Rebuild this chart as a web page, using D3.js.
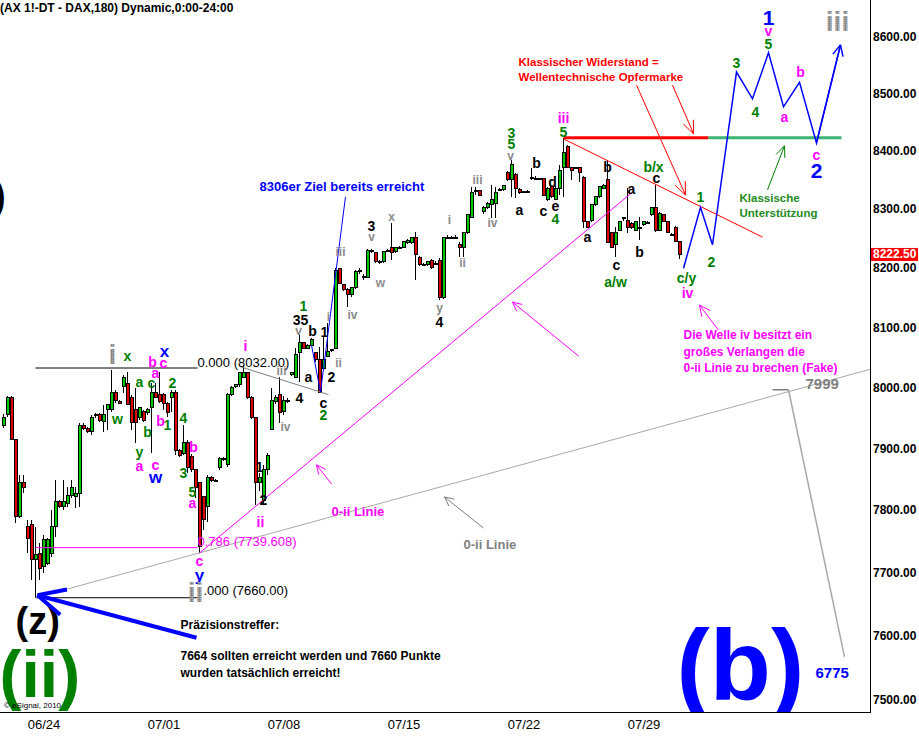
<!DOCTYPE html>
<html>
<head>
<meta charset="utf-8">
<script src="https://cdn.jsdelivr.net/npm/d3@7"></script>
<style>
  body { margin: 0; background: #fff; }
  text { font-family: Arial, "Liberation Sans", sans-serif; }
</style>
</head>
<body>
<div id="chart"></div>
<script>
// 180 min bars, FDAX, 0 = first bar on chart
const opens = [7938,7955,7983,7914,7789,7844,7773,7776,7720,7731,7709,7715,7731,7773,7813,7805,7811,7824,7821,7827,
  7938,7933,7927,7953,7955,7943,7963,7963,7992,7976,8001,8007,7984,7963,7951,7960,7958,7966,7992,7988,
  7988,7974,7983,7992,7897,7892,7910,7886,7865,7844,7821,7805,7853,7848,7868,7881,7873,7988,8002,8004,
  8017,8024,7983,7950,7844,7816,7865,7930,7976,7988,7960,7979,8022,8017,8057,8074,8065,8070,8057,8046,
  8032,8051,8061,8065,8198,8171,8163,8154,8166,8193,8186,8184,8230,8225,8210,8210,8229,8234,8227,8234,
  8235,8242,8242,8251,8218,8205,8205,8213,8208,8213,8149,8252,8251,8252,8239,8235,8259,8286,8331,8331,
  8295,8303,8307,8310,8333,8333,8362,8350,8360,8334,8329,8330,8355,8353,8352,8352,8316,8338,8317,8336,
  8371,8407,8372,8370,8372,8355,8278,8281,8307,8321,8336,8350,8259,8239,8264,8283,8281,8276,8264,8269,
  8273,8276,8290,8302,8264,8290,8278,8257,8268,8244];
const highs = [7956,7986,7986,7914,7857,7857,7784,7784,7773,7747,7760,7755,7800,7848,7816,7848,7837,7848,7837,7942,
  7942,7935,7955,7958,7958,7971,7971,8029,7996,7979,8021,8026,7988,7999,7966,7963,7966,8007,8007,8026,
  7991,7976,7996,7996,7899,7938,7914,7890,7865,7846,7821,7857,7855,7850,7886,7886,7990,8003,8006,8026,
  8037,8026,7985,7952,7860,7873,7892,7999,7988,8017,7985,7982,8026,8065,8087,8076,8072,8082,8059,8067,
  8084,8107,8064,8199,8200,8173,8165,8168,8196,8200,8189,8232,8232,8227,8213,8229,8232,8276,8236,8237,
  8246,8249,8252,8261,8220,8208,8212,8215,8211,8217,8253,8256,8254,8255,8244,8261,8292,8338,8338,8333,
  8305,8312,8341,8338,8336,8341,8365,8384,8362,8336,8331,8332,8371,8356,8354,8354,8338,8340,8338,8376,
  8423,8410,8373,8373,8373,8356,8280,8309,8322,8340,8343,8384,8261,8269,8280,8287,8336,8278,8280,8286,
  8280,8279,8303,8341,8295,8292,8280,8259,8271,8245];
const lows = [7933,7951,7914,7779,7787,7827,7731,7688,7660,7688,7699,7712,7725,7757,7803,7800,7805,7819,7803,7805,
  7930,7925,7922,7950,7943,7927,7930,7960,7974,7972,7991,7971,7930,7909,7946,7943,7955,7892,7983,7974,
  7963,7951,7960,7889,7886,7889,7860,7862,7819,7731,7768,7781,7846,7845,7865,7879,7870,7985,7999,8001,
  8016,7981,7948,7808,7830,7808,7857,7930,7972,7942,7955,7974,8018,8017,8009,8063,8063,8068,8042,7991,
  8029,8051,8058,8063,8174,8161,8134,8150,8164,8190,8180,8182,8225,8208,8207,8208,8227,8213,8225,8232,
  8233,8240,8240,8179,8203,8203,8203,8198,8205,8146,8147,8249,8248,8249,8218,8218,8257,8286,8324,8322,
  8292,8300,8285,8285,8331,8331,8348,8321,8319,8326,8327,8327,8350,8350,8349,8322,8314,8319,8315,8324,
  8321,8372,8350,8368,8347,8268,8267,8278,8305,8319,8334,8242,8233,8218,8262,8280,8259,8266,8262,8247,
  8271,8274,8288,8261,8262,8278,8259,8254,8244,8215];
const closes = [7951,7983,7914,7789,7844,7837,7755,7720,7728,7707,7752,7752,7773,7813,7805,7813,7824,7837,7827,7938,
  7933,7928,7951,7955,7946,7955,7971,7992,7979,7974,8016,7971,7942,7942,7966,7946,7963,7992,7983,7976,
  7974,7958,7992,7897,7889,7909,7868,7865,7837,7741,7784,7853,7848,7847,7884,7884,7988,7999,8004,8024,
  8024,7983,7950,7844,7853,7865,7889,7979,7984,7958,7979,7977,8024,8054,8074,8065,8070,8079,8046,7992,
  8046,8059,8062,8196,8174,8163,8154,8166,8193,8196,8184,8230,8227,8210,8209,8227,8230,8225,8234,8235,
  8244,8247,8251,8222,8205,8206,8210,8200,8207,8149,8252,8251,8252,8250,8234,8259,8290,8328,8330,8324,
  8302,8310,8316,8329,8334,8340,8350,8376,8336,8328,8330,8328,8353,8352,8351,8324,8336,8321,8336,8367,
  8397,8372,8367,8371,8362,8278,8269,8307,8321,8338,8341,8242,8235,8259,8278,8285,8268,8268,8278,8268,
  8278,8277,8302,8264,8293,8278,8259,8256,8244,8222.5];

const lastPrice = 8222.5;
const priceTicks = [7500, 7600, 7700, 7800, 7900, 8000, 8100, 8200, 8300, 8400, 8500, 8600];
const dateBars = [10, 40, 70, 100, 130, 160];
const dateLabels = ["06/24", "07/01", "07/08", "07/15", "07/22", "07/29"];

// fibonacci levels drawn from the (z) low
const fibLevels = [8032, 7739.608, 7660];
const fibKinds = ["black", "magenta", "black"];
const fibBars = [8, 48.5];

// projected path of the count (bar, price)
const projBars = [170, 174.25, 177.25, 183.25, 187.25, 191.25, 195, 199, 203.25, 209.25];
const projPrices = [8199, 8303, 8239, 8538, 8491, 8572, 8477, 8520, 8414, 8586];

// wave labels: bar, price, text, degree
const waveLabels = [
  [27.25, 8054, "i", "greyBig"], [31, 8052, "x", "green"], [40.25, 8059, "x", "blue"],
  [37.25, 8042, "b", "magenta"], [40, 8041, "c", "magenta"], [38, 8024, "a", "magenta"],
  [37, 8007, "c", "green"], [34, 8009, "a", "green"], [42.25, 8007, "2", "green"],
  [28.5, 7948, "w", "green"], [39.25, 7945, "b", "magenta"], [41, 7938, "1", "green"],
  [36, 7927, "b", "green"], [45, 7950, "4", "green"], [34, 7894, "y", "green"],
  [47.5, 7902, "b", "magenta"], [34, 7871, "a", "magenta"], [38, 7873, "c", "magenta"],
  [38, 7853, "w", "blue"], [45, 7860, "3", "green"], [47.25, 7829, "5", "green"],
  [47.25, 7811, "a", "magenta"], [60.5, 8069, "i", "magenta"], [64.25, 7781, "ii", "magenta"],
  [64, 7870, "1", "black"], [65, 7816, "2", "black"], [49, 7718, "c", "magenta"],
  [49, 7696, "y", "blue"], [48, 7668, "ii", "greyBig"],
  [84.25, 8227, "iii", "grey"], [92, 8271, "3", "black"], [97, 8286, "x", "grey"],
  [92, 8252, "v", "grey"], [94.25, 8174, "w", "grey"], [87.25, 8120, "iv", "grey"],
  [111.5, 8281, "i", "grey"], [114.75, 8208, "ii", "grey"], [109, 8132, "y", "grey"],
  [109, 8109, "4", "black"], [75, 8136, "1", "green"], [74.25, 8112, "35", "black"],
  [73.75, 8094, "v", "grey"], [77.25, 8094, "b", "black"], [80.25, 8092, "1", "black"],
  [81.25, 8117, "i", "grey"], [69.5, 8027, "iii", "grey"], [76.25, 8017, "a", "black"],
  [82, 8017, "2", "black"], [83.75, 8041, "ii", "grey"], [74, 7983, "4", "black"],
  [80, 7974, "c", "black"], [80, 7955, "2", "green"], [70.5, 7935, "iv", "grey"],
  [140, 8458, "iii", "magenta"], [140, 8433, "5", "green"], [127, 8431, "3", "green"],
  [127, 8412, "5", "green"], [126.75, 8391, "v", "grey"], [133.25, 8379, "b", "black"],
  [118.5, 8350, "iii", "grey"], [137.25, 8347, "d", "black"], [129, 8298, "a", "black"],
  [135, 8297, "c", "black"], [138, 8305, "e", "black"], [138, 8283, "4", "green"],
  [122.25, 8276, "iv", "grey"], [151, 8372, "b", "black"], [162.5, 8372, "b/x", "green"],
  [163.25, 8353, "c", "black"], [157, 8334, "a", "black"], [146, 8252, "a", "black"],
  [153.25, 8205, "c", "black"], [159, 8227, "b", "black"], [153, 8176, "a/w", "green"],
  [170.75, 8183, "c/y", "green"], [171, 8157, "iv", "magenta"], [174.25, 8321, "1", "green"],
  [191.25, 8634, "1", "blueBig"], [191.25, 8611, "v", "magenta"], [191.25, 8588, "5", "green"],
  [208.5, 8627, "iii", "greyBig"], [183.25, 8554, "3", "green"], [188, 8468, "4", "green"],
  [195.25, 8459, "a", "magenta"], [199.25, 8538, "b", "magenta"], [203.25, 8393, "c", "magenta"],
  [203.25, 8366, "2", "blueBig"], [177, 8210, "2", "green"]
];

// commentary: bar, price, text, kind
const notes = [
  [64, 8338, "8306er Ziel bereits erreicht", "blueNote"],
  [128.75, 8556, "Klassischer Widerstand =", "redNote"],
  [128.75, 8529, "Wellentechnische Opfermarke", "redNote"],
  [184, 8319, "Klassische", "greenNote"],
  [184, 8293, "Unterstützung", "greenNote"],
  [170, 8087, "Die Welle iv besitzt ein", "magentaNote"],
  [170, 8059, "großes Verlangen die", "magentaNote"],
  [170, 8032, "0-ii Linie zu brechen (Fake)", "magentaNote"],
  [82, 7797, "0-ii Linie", "magentaLine"],
  [115, 7744, "0-ii Linie", "greyLine"],
  [48.5, 8041, "0.000 (8032.00)", "fibBlack"],
  [48.5, 7750, "0.786 (7739.608)", "fibMagenta"],
  [50, 7671, ".000 (7660.00)", "fibBlack"],
  [200.5, 8006, "7999", "greyValue"],
  [203, 7542, "6775", "blueValue"],
  [44.25, 7617, "Präzisionstreffer:", "blackNote"],
  [44.25, 7568, "7664 sollten erreicht werden und 7660 Punkte", "blackNote"],
  [44.25, 7542, "wurden tatsächlich erreicht!", "blackNote"]
];

// big degree labels, placed on their baseline
const bigLabels = [
  [3, 7603, "(z)", "bigZ"],
  [-1, 7504, "(ii)", "bigII"],
  [168.25, 7500, "(b)", "bigB"],
  [-2.75, 8298, ")", "bigParen"]
];

const width = 919, height = 737;
const plotRight = 870, plotBottom = 712;

const x = d3.scaleLinear().domain([0, 216.75]).range([3.5, 870.5]);
const y = d3.scaleLog().domain([7500, 8600]).range([700, 37]);

const svg = d3.select("#chart").append("svg")
  .attr("width", width)
  .attr("height", height);

const defs = svg.append("defs");
defs.append("clipPath").attr("id", "plotClip")
  .append("rect").attr("x", 0).attr("y", 0).attr("width", plotRight).attr("height", plotBottom);
const pat = defs.append("pattern").attr("id", "stipple")
  .attr("width", 2).attr("height", 2).attr("patternUnits", "userSpaceOnUse");
pat.append("rect").attr("width", 2).attr("height", 2).attr("fill", "#8a8a8a");
pat.append("rect").attr("width", 1).attr("height", 1).attr("fill", "#b4b4b4");

const plot = svg.append("g").attr("clip-path", "url(#plotClip)");

// big background labels first
const bigStyle = {
  bigZ: { fill: "#000", size: 38 },
  bigII: { fill: "#008000", size: 66 },
  bigB: { fill: "#0000ff", size: 100 },
  bigParen: { fill: "#000", size: 40 }
};
plot.append("g").selectAll("text")
  .data(bigLabels)
  .join("text")
  .attr("x", d => x(d[0]))
  .attr("y", d => y(d[1]))
  .attr("font-size", d => bigStyle[d[3]].size)
  .attr("font-weight", "bold")
  .attr("fill", d => bigStyle[d[3]].fill)
  .text(d => d[2]);

// helpers for lines in data space
function seg(g, pts, color, w) {
  return g.append("path")
    .attr("d", d3.line().x(p => x(p[0])).y(p => y(p[1]))(pts))
    .attr("fill", "none")
    .attr("stroke", color)
    .attr("stroke-width", w);
}
function arrow(g, from, to, color, w, len, ang) {
  seg(g, [from, to], color, w);
  const x1 = x(from[0]), y1 = y(from[1]), x2 = x(to[0]), y2 = y(to[1]);
  const a = Math.atan2(y1 - y2, x1 - x2);
  [ang, -ang].forEach(d => {
    g.append("line")
      .attr("x1", x2).attr("y1", y2)
      .attr("x2", x2 + len * Math.cos(a + d))
      .attr("y2", y2 + len * Math.sin(a + d))
      .attr("stroke", color)
      .attr("stroke-width", w);
  });
}

const lines = plot.append("g");
// fib levels
fibLevels.forEach((lv, k) => {
  seg(lines, [[fibBars[0], lv], [fibBars[1], lv]], fibKinds[k] == "magenta" ? "#ff00ff" : "#000", 1);
});
// channel / trend lines
seg(lines, [[59.25, 8034], [81.25, 7988]], "#808080", 1);
seg(lines, [[8, 7660], [216.75, 8030]], "#a8a8a8", 1);
seg(lines, [[49, 7731], [157.25, 8329]], "#ff00ff", 1);
seg(lines, [[192.25, 7996], [196.25, 7996]], "#808080", 1.5);
seg(lines, [[196.25, 7996], [210.25, 7567]], "#a8a8a8", 1.5);
seg(lines, [[140, 8421], [189.75, 8252]], "#ff0000", 1);
seg(lines, [[77, 8070], [79.25, 7992], [85.5, 8321]], "#0000ff", 1);

// candles
const bars = d3.range(opens.length);
const candles = plot.append("g").attr("shape-rendering", "crispEdges");
candles.selectAll("line")
  .data(bars)
  .join("line")
  .attr("x1", i => x(i)).attr("x2", i => x(i))
  .attr("y1", i => y(highs[i]))
  .attr("y2", i => y(lows[i]))
  .attr("stroke", "#000");
candles.selectAll("rect")
  .data(bars)
  .join("rect")
  .attr("x", i => x(i) - 1.5)
  .attr("width", 3)
  .attr("y", i => y(Math.max(opens[i], closes[i])))
  .attr("height", i => Math.max(1, y(Math.min(opens[i], closes[i])) - y(Math.max(opens[i], closes[i]))))
  .attr("fill", i => closes[i] >= opens[i] ? "#00c800" : "#e00000")
  .attr("stroke", "#000")
  .attr("stroke-width", 1);

// resistance / support
seg(lines.raise(), [[140, 8423], [176.25, 8423]], "#ff0000", 3);
seg(lines, [[176.25, 8423], [209.5, 8423]], "#3cb371", 3);

// projection
const proj = plot.append("g");
seg(proj, projBars.map((b, k) => [b, projPrices[k]]), "#0000ff", 1.5);
arrow(proj, [projBars[8], projPrices[8]], [projBars[9], projPrices[9]], "#0000ff", 1.5, 12, 0.45);

// pointers
const arrows = plot.append("g");
arrow(arrows, [167.25, 8515], [172.5, 8430], "#ff0000", 1, 14, 0.4);
arrow(arrows, [158.25, 8515], [170.5, 8324], "#ff0000", 1, 14, 0.4);
arrow(arrows, [191, 8333], [195.25, 8409], "#008000", 1, 12, 0.4);
arrow(arrows, [178.75, 8095], [174, 8137], "#ff00ff", 1, 12, 0.45);
arrow(arrows, [143.75, 8052], [127.25, 8142], "#ff00ff", 1, 10, 0.45);
arrow(arrows, [82, 7842], [78.25, 7873], "#ff00ff", 1, 10, 0.45);
arrow(arrows, [120, 7771], [110.25, 7821], "#808080", 1, 10, 0.45);
arrow(arrows, [48.25, 7597], [8.5, 7664], "#0000ff", 4, 30, 0.45);

// wave labels
const labelStyle = {
  grey: { fill: "#8a8a8a", size: 12 },
  greyBig: { fill: "url(#stipple)", size: 28 },
  green: { fill: "#008000", size: 14 },
  magenta: { fill: "#ff00ff", size: 14 },
  black: { fill: "#000", size: 14 },
  blue: { fill: "#0000ff", size: 17 },
  blueBig: { fill: "#0000ff", size: 21 }
};
plot.append("g").selectAll("text")
  .data(waveLabels)
  .join("text")
  .attr("x", d => x(d[0]))
  .attr("y", d => y(d[1]))
  .attr("text-anchor", "middle")
  .attr("dominant-baseline", "central")
  .attr("font-size", d => labelStyle[d[3]].size)
  .attr("font-weight", "bold")
  .attr("fill", d => labelStyle[d[3]].fill)
  .text(d => d[2]);

// commentary
const noteStyle = {
  blueNote: { fill: "#0000ff", size: 13, weight: "bold" },
  redNote: { fill: "#ff0000", size: 11.5, weight: "bold" },
  greenNote: { fill: "#228b22", size: 11.5, weight: "bold" },
  magentaNote: { fill: "#ff00ff", size: 12, weight: "bold" },
  magentaLine: { fill: "#ff00ff", size: 13, weight: "bold" },
  greyLine: { fill: "#808080", size: 13, weight: "bold" },
  fibBlack: { fill: "#000", size: 13, weight: "normal" },
  fibMagenta: { fill: "#ff00ff", size: 13, weight: "normal" },
  greyValue: { fill: "#808080", size: 15, weight: "bold" },
  blueValue: { fill: "#0000ff", size: 15, weight: "bold" },
  blackNote: { fill: "#000", size: 12, weight: "bold" }
};
plot.append("g").selectAll("text")
  .data(notes)
  .join("text")
  .attr("x", d => x(d[0]))
  .attr("y", d => y(d[1]))
  .attr("dominant-baseline", "central")
  .attr("font-size", d => noteStyle[d[3]].size)
  .attr("font-weight", d => noteStyle[d[3]].weight)
  .attr("fill", d => noteStyle[d[3]].fill)
  .text(d => d[2]);

plot.append("text")
  .attr("x", 4).attr("y", 708)
  .attr("font-size", 8)
  .text("© eSignal, 2010");

// frame
svg.append("line").attr("x1", plotRight + 0.5).attr("x2", plotRight + 0.5)
  .attr("y1", 0).attr("y2", plotBottom + 1).attr("stroke", "#000");
svg.append("line").attr("x1", 0).attr("x2", plotRight + 1)
  .attr("y1", plotBottom + 0.5).attr("y2", plotBottom + 0.5).attr("stroke", "#000");

// axes
const yAxis = d3.axisRight(y)
  .tickValues(priceTicks)
  .tickSize(0)
  .tickPadding(3)
  .tickFormat(d3.format(".2f"));
svg.append("g")
  .attr("transform", `translate(${plotRight},0)`)
  .call(yAxis)
  .call(g => g.select(".domain").remove())
  .call(g => g.selectAll("text")
    .attr("font-size", 12)
    .attr("font-weight", "bold")
    .attr("font-family", "Arial, 'Liberation Sans', sans-serif")
    .attr("fill", "#000"));

const lastG = svg.append("g").attr("transform", `translate(${plotRight + 1},${y(lastPrice)})`);
lastG.append("rect").attr("x", 0).attr("y", -6.5).attr("width", 47).attr("height", 13).attr("fill", "#ff0000");
lastG.append("text").attr("x", 2).attr("dominant-baseline", "central")
  .attr("font-size", 12).attr("font-weight", "bold").attr("fill", "#fff")
  .text(d3.format(".2f")(lastPrice));

const xAxis = d3.axisBottom(x)
  .tickValues(dateBars)
  .tickSize(0)
  .tickPadding(8)
  .tickFormat((d, k) => dateLabels[k]);
svg.append("g")
  .attr("transform", `translate(0,${plotBottom})`)
  .call(xAxis)
  .call(g => g.select(".domain").remove())
  .call(g => g.selectAll("text")
    .attr("font-size", 13)
    .attr("font-family", "'Liberation Sans Narrow', 'Arial Narrow', Arial, sans-serif")
    .attr("fill", "#000"));

// header
svg.append("text")
  .attr("x", 0).attr("y", 12)
  .attr("font-size", 12)
  .attr("font-weight", "bold")
  .text("(AX 1!-DT - DAX,180) Dynamic,0:00-24:00");
</script>
</body>
</html>
